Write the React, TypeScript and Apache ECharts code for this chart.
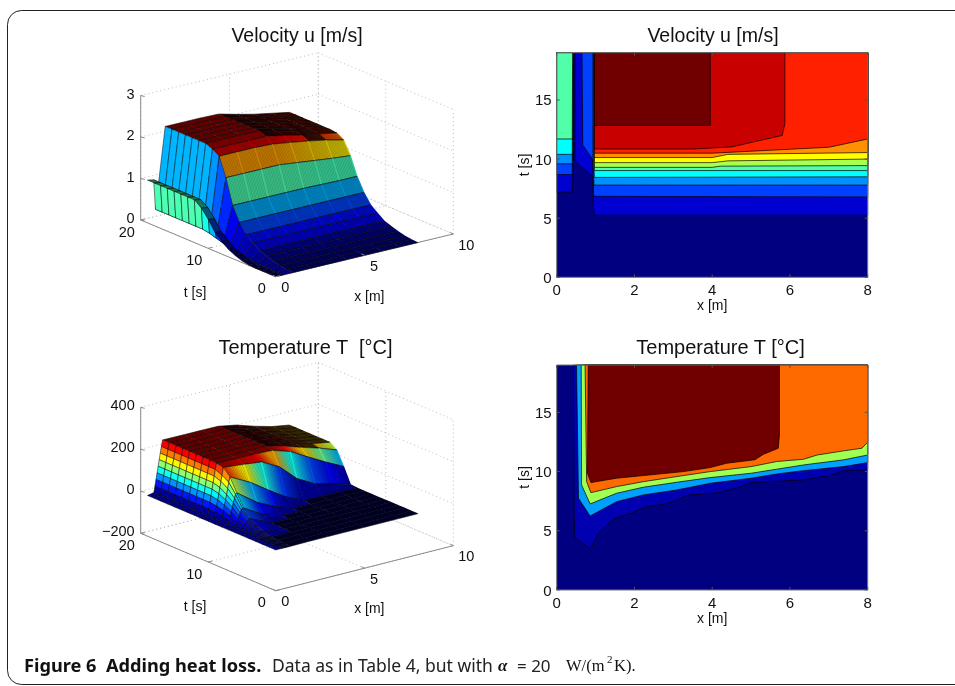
import React, { useEffect, useRef } from "react";
import * as echarts from "echarts";

// ---------- 3D surface data (rows: t = 0..19, columns: the x lists) ----------
const tGrid = [0,1,2,3,4,5,6,7,8,9,10,11,12,13,14,15,16,17,18,19];
const xGridU = [0,0.35,0.45,1,2,3,4,5,6,7,8];
const uRows = [
  [0,0,0,0,0,0,0,0,0,0,0],
  [0,0,0,0.01,0.01,0.01,0.01,0.01,0.01,0.01,0.01],
  [0,0,0,0.03,0.03,0.03,0.03,0.03,0.03,0.03,0.03],
  [0,0,0,0.07,0.07,0.07,0.07,0.07,0.07,0.07,0.07],
  [0.01,0.01,0.01,0.12,0.12,0.12,0.12,0.12,0.12,0.12,0.12],
  [0.04,0.04,0.03,0.18,0.18,0.18,0.18,0.18,0.18,0.18,0.18],
  [0.1,0.1,0.05,0.3,0.3,0.3,0.3,0.3,0.3,0.3,0.3],
  [0.18,0.18,0.07,0.43,0.43,0.43,0.43,0.43,0.43,0.43,0.43],
  [0.3,0.3,0.1,0.66,0.66,0.66,0.66,0.66,0.66,0.66,0.66],
  [0.45,0.44,0.15,1.0,1.0,1.0,1.0,1.0,0.99,0.98,0.98],
  [0.7,0.68,0.2,1.6,1.6,1.6,1.6,1.55,1.5,1.45,1.41],
  [0.9,0.88,0.25,2.05,2.05,2.05,2.03,1.97,1.9,1.82,1.72],
  [1.03,1.0,0.28,2.15,2.15,2.15,2.15,2.07,1.97,1.9,1.82],
  [1.03,1.0,0.28,2.22,2.22,2.22,2.21,2.1,2.0,1.92,1.84],
  [1.03,1.0,0.28,2.22,2.22,2.22,2.21,2.1,2.0,1.92,1.84],
  [1.03,1.0,0.28,2.22,2.22,2.22,2.21,2.1,2.0,1.92,1.84],
  [1.03,1.0,0.28,2.22,2.22,2.22,2.21,2.1,2.0,1.92,1.84],
  [1.03,1.0,0.28,2.22,2.22,2.22,2.21,2.1,2.0,1.92,1.84],
  [1.03,1.0,0.28,2.22,2.22,2.22,2.21,2.1,2.0,1.92,1.84],
  [1.03,1.0,0.28,2.22,2.22,2.22,2.21,2.1,2.0,1.92,1.84],
];
const xGridT = [0,0.36,0.42,0.48,0.54,0.6,0.66,0.72,0.78,0.85,2,3,4,5,6,7,8];
const tempRows = [
  [-6,-6,-6,-6,-6,-6,-6,-6,-6,-6,-5,-5,-5,-5,-5,-5,-5],
  [-6,-6,-6,-6,-6,-6,-6,-6,-6,-6,-5,-5,-5,-5,-5,-5,-5],
  [-6,-6,-6,-6,-5,-5,-5,-5,-5,-4,-5,-5,-5,-5,-5,-5,-5],
  [-6,-6,-5,-5,-4,-3,-3,-3,-3,-2,-5,-5,-5,-5,-5,-5,-5],
  [-6,-5,-1,3,6,8,9,10,10,10,-4,-5,-5,-5,-5,-5,-5],
  [-6,-4,2,8,13,17,20,23,24,25,-3,-5,-5,-5,-5,-5,-5],
  [-6,-2,5,12,20,27,34,40,43,43,-2,-4,-5,-5,-5,-5,-5],
  [-6,-1,10,22,35,48,60,72,80,80,22,-3,-5,-5,-5,-5,-5],
  [-6,0,18,36,55,75,95,115,132,138,68,28,-2,-5,-5,-5,-5],
  [-6,0,24,48,72,96,120,148,176,200,150,92,38,0,-2,-4,-5],
  [-6,0,28,56,84,112,140,168,196,232,222,212,168,90,44,22,-1],
  [-6,0,30,60,90,120,150,180,210,238,236,236,232,205,158,112,70],
  [-6,0,30,60,90,120,150,180,210,239,238,238,238,218,190,165,135],
  [-6,0,30,60,90,120,150,180,210,240,239,239,238,222,195,172,158],
  [-6,0,30,60,90,120,150,180,210,240,239,239,238,222,195,172,158],
  [-6,0,30,60,90,120,150,180,210,240,239,239,238,222,195,172,158],
  [-6,0,30,60,90,120,150,180,210,240,239,239,238,222,195,172,158],
  [-6,0,30,60,90,120,150,180,210,240,239,239,238,222,195,172,158],
  [-6,0,30,60,90,120,150,180,210,240,239,239,238,222,195,172,158],
  [-6,0,30,60,90,120,150,180,210,240,239,239,238,222,195,172,158],
];

// ---------- 3D axis ticks ----------
const xTicks3D = [0,5,10];
const tTicks3D = [0,10,20];
const uTicks3D = [0,1,2,3];
const tempTicks3D = [-200,0,200,400];
const tempTickLabels = ["\u2212200","0","200","400"];

// ---------- filled contour regions: [x, t] outlines ----------
const velocityColors = ["#000080","#0000d0","#0000d0","#0040ff","#0040ff","#0090ff","#0090ff","#00ffff","#00ffff","#50ffa8","#50ffa8","#a8ff50","#ffff00","#ff9000","#ff2000","#c80000","#700000"];
const velocityRegions: number[][][] = [
  [[0,0],[8,0],[8,19],[0,19]],
  [[0,7.2],[0.4,7.2],[0.42,9],[0.42,19],[0,19]],
  [[0.47,19],[0.47,9.9],[0.92,8.5],[0.94,6],[0.97,5.25],[8,5.25],[8,19]],
  [[0,8.7],[0.4,8.7],[0.41,19],[0,19]],
  [[0.65,19],[0.67,11.2],[0.92,10],[0.95,7],[0.97,6.85],[8,6.8],[8,19]],
  [[0,9.6],[0.4,9.6],[0.41,19],[0,19]],
  [[0.93,19],[0.93,10.1],[0.96,7.8],[8,7.8],[8,19]],
  [[0,10.4],[0.4,10.4],[0.41,19],[0,19]],
  [[0.95,19],[0.95,10],[0.97,8.45],[8,8.5],[8,19]],
  [[0,11.7],[0.4,11.7],[0.41,19],[0,19]],
  [[0.96,19],[0.97,9.03],[8,9.03],[8,19]],
  [[0.97,19],[0.97,9.3],[4,9.3],[4.2,9.4],[8,9.45],[8,19]],
  [[0.97,19],[0.97,9.7],[4,9.7],[4.4,9.85],[8,10],[8,19]],
  [[0.97,19],[0.97,10.13],[4,10.13],[4.4,10.4],[8,10.55],[8,19]],
  [[0.97,19],[0.97,10.5],[4,10.5],[7,11],[8,11.7],[8,19]],
  [[0.97,19],[0.97,10.85],[3.5,10.85],[4.5,11.03],[5.8,12],[5.87,13],[5.87,19]],
  [[0.97,12.85],[3.95,12.85],[3.95,19],[0.97,19]],
];
const temperatureColors = ["#000080","#0000b0","#00a0ff","#a0ff50","#ff6a00","#700000"];
const temperatureRegions: number[][][] = [
  [[0,0],[8,0],[8,19],[0,19]],
  [[0.43,19],[0.45,6.05],[0.47,4.4],[0.86,3.5],[1.1,4.9],[1.5,6.05],[1.93,6.5],[2.27,7],[2.83,7.3],[3.1,7.6],[3.35,8],[4.1,8.2],[4.63,8.6],[5,9.07],[6.35,9.3],[7,9.66],[7.4,10.08],[8,10.14],[8,19]],
  [[0.51,19],[0.56,7.75],[0.86,6.25],[1.54,7.46],[2.23,8.03],[3.09,8.45],[3.95,9.01],[5,9.44],[5.66,9.8],[6.35,10.08],[7.38,10.42],[8,10.76],[8,19]],
  [[0.63,19],[0.64,8.87],[0.86,7.27],[1.54,8.17],[2.23,8.68],[3.09,9.1],[3.95,9.49],[5,9.86],[5.66,10.2],[6.35,10.56],[7.38,10.99],[8,11.4],[8,19]],
  [[0.73,19],[0.77,9.15],[0.88,8.22],[1.54,8.73],[2.23,9.15],[3.09,9.58],[3.95,10],[5,10.42],[5.66,10.85],[6.35,11.04],[6.7,11.4],[7.38,11.75],[7.85,11.97],[8,12.48],[8,19]],
  [[0.81,19],[0.79,9.86],[0.88,9.07],[1.54,9.44],[2.23,9.66],[3.26,10],[3.95,10.34],[4.37,10.7],[5.1,11],[5.32,11.46],[5.7,11.97],[5.73,13.1],[5.73,19]],
];
const xTicks2D = [0,2,4,6,8];
const tTicks2D = [0,5,10,15];

const SANS = "Liberation Sans";

function jet(v: number) {
  const c = (a: number) => Math.max(0, Math.min(1, 1.5 - Math.abs(4 * v - a)));
  return [c(3), c(2), c(1)];
}
function rgb(v: number, k: number) {
  const [r, g, b] = jet(Math.max(0, Math.min(1, v)));
  return `rgb(${Math.round(r * k * 255)},${Math.round(g * k * 255)},${Math.round(b * k * 255)})`;
}

type Panel = {
  xs: number[]; Z: number[][]; origin: number[]; xv: number[]; tv: number[]; zv: number[];
  zBase: number; cMin: number; cMax: number; meshStart: number; gain: number[]; colShade: number[];
  slopeShade: number; flatNear: number; flatFar: number; flatLow: number;
  zTicks: number[]; zLabels: string[]; names: { text: string; x: number; y: number }[];
};
const panelU: Panel = {
  xs: xGridU, Z: uRows, origin: [275.7, 276.7], xv: [17.76, -4.27], tv: [-6.75, -2.835], zv: [0, -41.5],
  zBase: 0, cMin: 0, cMax: 2.22, meshStart: 3, gain: [1, 1, 2.4], colShade: [0.45, 1, 1],
  slopeShade: 0.78, flatNear: 0.72, flatFar: 0.2, flatLow: 0.6,
  zTicks: uTicks3D, zLabels: uTicks3D.map(String),
  names: [{ text: "t [s]", x: 195, y: 291.7 }, { text: "x [m]", x: 369.3, y: 296 }],
};
const panelT: Panel = {
  xs: xGridT, Z: tempRows, origin: [275.7, 590.7], xv: [17.76, -4.5], tv: [-6.75, -2.87], zv: [0, -0.21],
  zBase: -200, cMin: -6, cMax: 240, meshStart: 9, gain: [], colShade: [],
  slopeShade: 0.9, flatNear: 0.72, flatFar: 0.2, flatLow: 0.3,
  zTicks: tempTicks3D, zLabels: tempTickLabels,
  names: [{ text: "t [s]", x: 195, y: 605.7 }, { text: "x [m]", x: 369.3, y: 608.3 }],
};
const HATCH_STEPS = 12;

function project(p: Panel, x: number, t: number, z: number) {
  return [
    p.origin[0] + x * p.xv[0] + t * p.tv[0] + (z - p.zBase) * p.zv[0],
    p.origin[1] + x * p.xv[1] + t * p.tv[1] + (z - p.zBase) * p.zv[1],
  ];
}

function surfaceSeries(p: Panel) {
  const cells: number[][] = [];
  for (let j = tGrid.length - 2; j >= 0; j--)
    for (let i = p.xs.length - 2; i >= 0; i--) cells.push([i, j]);
  const range = p.cMax - p.cMin;
  const col = (v: number, g: number) => (v * g - p.cMin) / range;
  const pad = (from: number[], to: number[]) => {
    const dx = to[0] - from[0], dy = to[1] - from[1];
    const len = Math.hypot(dx, dy) || 1;
    return [to[0] + (dx / len) * 0.6, to[1] + (dy / len) * 0.6];
  };
  return {
    type: "custom", coordinateSystem: "cartesian2d", xAxisIndex: 0, yAxisIndex: 0, clip: false, silent: true, z: 3,
    data: cells,
    renderItem: (params: any, api: any) => {
      const [i, j] = cells[params.dataIndex];
      const P = (a: number, b: number) => api.coord(project(p, p.xs[a], tGrid[b], p.Z[b][a]));
      const c00 = P(i, j), c10 = P(i + 1, j), c11 = P(i + 1, j + 1), c01 = P(i, j + 1);
      const mesh = i >= p.meshStart;
      let shade = p.colShade[i] ?? 1;
      let hatch = false;
      if (mesh) {
        const slope = Math.abs(p.Z[j + 1][i] - p.Z[j][i]) / range > 0.04
          || Math.abs(p.Z[j + 1][i + 1] - p.Z[j][i + 1]) / range > 0.04;
        const low = col(p.Z[j][i], 1) < 0.06;
        hatch = slope && col(p.Z[j][i], 1) > 0.12;
        shade = slope ? p.slopeShade : low ? p.flatLow : p.xs[i] >= 4 ? p.flatFar : p.flatNear;
      }
      const g = p.gain[i] ?? 1;
      const c0 = rgb(col(p.Z[j][i], g), shade);
      let fill: any = c0;
      if (mesh) {
        // colour isolines run along the cell's t-edge, so neighbouring cells meet without a seam
        const ex = c01[0] - c00[0], ey = c01[1] - c00[1];
        const el = Math.hypot(ex, ey) || 1;
        const nx = -ey / el, ny = ex / el;
        const d = (c10[0] - c00[0]) * nx + (c10[1] - c00[1]) * ny;
        fill = new echarts.graphic.LinearGradient(c00[0], c00[1], c00[0] + nx * d, c00[1] + ny * d,
          [{ offset: 0, color: c0 }, { offset: 1, color: rgb(col(p.Z[j][i + 1], g), shade) }], true);
      }
      const children: any[] = [{
        type: "polygon", silent: true,
        shape: { points: mesh ? [c00, pad(c00, c10), pad(c01, c11), c01] : [c00, c10, c11, c01] },
        style: mesh ? { fill } : { fill, stroke: "rgba(0,0,0,0.8)", lineWidth: 0.6 },
      }];
      if (mesh) {
        if (hatch) {
          for (let s = 0; s < HATCH_STEPS; s++) {
            const f = s / HATCH_STEPS;
            children.push({
              type: "line", silent: true,
              shape: {
                x1: c00[0] + (c10[0] - c00[0]) * f, y1: c00[1] + (c10[1] - c00[1]) * f,
                x2: c01[0] + (c11[0] - c01[0]) * f, y2: c01[1] + (c11[1] - c01[1]) * f,
              },
              style: { stroke: "rgba(0,0,0,0.3)", lineWidth: 0.6 },
            });
          }
        }
        children.push({ type: "line", silent: true, shape: { x1: c00[0], y1: c00[1], x2: c10[0], y2: c10[1] }, style: { stroke: "rgba(0,0,0,0.8)", lineWidth: 0.7 } });
        children.push({ type: "line", silent: true, shape: { x1: c01[0], y1: c01[1], x2: c11[0], y2: c11[1] }, style: { stroke: "rgba(0,0,0,0.8)", lineWidth: 0.7 } });
      }
      return { type: "group", children };
    },
  };
}

function wireSeries(p: Panel) {
  const zLo = p.zTicks[0], zHi = p.zTicks[p.zTicks.length - 1];
  const X = 10, T = 20;
  const seg: { a: number[]; b: number[]; solid: boolean }[] = [];
  for (const z of p.zTicks) {
    seg.push({ a: [0, T, z], b: [X, T, z], solid: false });
    seg.push({ a: [X, T, z], b: [X, 0, z], solid: false });
  }
  for (const x of xTicks3D) {
    seg.push({ a: [x, T, zLo], b: [x, T, zHi], solid: false });
    seg.push({ a: [x, 0, zLo], b: [x, T, zLo], solid: false });
  }
  for (const t of tTicks3D) {
    seg.push({ a: [X, t, zLo], b: [X, t, zHi], solid: false });
    seg.push({ a: [0, t, zLo], b: [X, t, zLo], solid: false });
  }
  seg.push({ a: [0, T, zLo], b: [0, T, zHi], solid: true });
  seg.push({ a: [0, 0, zLo], b: [0, T, zLo], solid: true });
  seg.push({ a: [0, 0, zLo], b: [X, 0, zLo], solid: true });
  return {
    type: "custom", coordinateSystem: "cartesian2d", xAxisIndex: 0, yAxisIndex: 0, clip: false, silent: true, z: 2,
    data: seg.map((_, i) => [i, 0]),
    renderItem: (params: any, api: any) => {
      const s = seg[params.dataIndex];
      const a = api.coord(project(p, s.a[0], s.a[1], s.a[2]));
      const b = api.coord(project(p, s.b[0], s.b[1], s.b[2]));
      return {
        type: "line", silent: true, shape: { x1: a[0], y1: a[1], x2: b[0], y2: b[1] },
        style: s.solid ? { stroke: "#8a8a8a", lineWidth: 1 } : { stroke: "#bdbdbd", lineWidth: 1, lineDash: [1, 3] },
      };
    },
  };
}

function labelSeries(p: Panel) {
  const zLo = p.zTicks[0];
  const items: { text: string; at: number[]; align: string }[] = [];
  p.zTicks.forEach((z, i) => {
    const a = project(p, 0, 20, z);
    items.push({ text: p.zLabels[i], at: [a[0] - 6, a[1] - 2], align: "right" });
  });
  tTicks3D.forEach((t) => {
    const a = project(p, 0, t, zLo);
    items.push({ text: String(t), at: [a[0] - 14, a[1] + 11.5], align: "center" });
  });
  xTicks3D.forEach((x) => {
    const a = project(p, x, 0, zLo);
    items.push({ text: String(x), at: [a[0] + (x === 10 ? 13 : 9.5), a[1] + 10.5], align: "center" });
  });
  const ticks: number[][][] = [];
  p.zTicks.forEach((z) => {
    const a = project(p, 0, 20, z);
    ticks.push([a, [a[0] + 4, a[1] + 1]]);
  });
  tTicks3D.forEach((t) => {
    const a = project(p, 0, t, zLo);
    ticks.push([a, [a[0] + 4, a[1] - 1]]);
  });
  xTicks3D.forEach((x) => {
    const a = project(p, x, 0, zLo);
    ticks.push([a, [a[0] - 3, a[1] - 1.5]]);
  });
  const total = items.length + p.names.length + ticks.length;
  return {
    type: "custom", coordinateSystem: "cartesian2d", xAxisIndex: 0, yAxisIndex: 0, clip: false, silent: true, z: 4,
    data: Array.from({ length: total }, (_, i) => [i, 0]),
    renderItem: (params: any, api: any) => {
      const k = params.dataIndex;
      if (k < items.length) {
        const it = items[k];
        const c = api.coord(it.at);
        return { type: "text", silent: true, x: c[0], y: c[1], style: { text: it.text, fill: "#111", font: `14.5px ${SANS}`, align: it.align, verticalAlign: "middle" } };
      }
      if (k < items.length + p.names.length) {
        const n = p.names[k - items.length];
        const c = api.coord([n.x, n.y]);
        return { type: "text", silent: true, x: c[0], y: c[1], style: { text: n.text, fill: "#111", font: `14px ${SANS}`, align: "center", verticalAlign: "middle" } };
      }
      const t = ticks[k - items.length - p.names.length];
      const a = api.coord(t[0]), b = api.coord(t[1]);
      return { type: "line", silent: true, shape: { x1: a[0], y1: a[1], x2: b[0], y2: b[1] }, style: { stroke: "#8a8a8a", lineWidth: 1 } };
    },
  };
}

function contourSeries(regions: number[][][], colors: string[], axis: number) {
  return {
    type: "custom", coordinateSystem: "cartesian2d", xAxisIndex: axis, yAxisIndex: axis, silent: true, z: 3,
    data: regions.map((_, i) => [i, 0]),
    renderItem: (params: any, api: any) => {
      const k = params.dataIndex;
      return {
        type: "polygon", silent: true,
        shape: { points: regions[k].map((q) => api.coord(q)) },
        style: { fill: colors[k], stroke: k === 0 ? "none" : "#000", lineWidth: 0.7 },
      };
    },
  };
}

function frameSeries(axis: number) {
  const tickList: { x: number; t: number; dx: number; dy: number }[] = [];
  for (const x of xTicks2D) {
    tickList.push({ x, t: 0, dx: 0, dy: -3 });
    tickList.push({ x, t: 19, dx: 0, dy: 3 });
  }
  for (const t of tTicks2D) {
    tickList.push({ x: 0, t, dx: 3, dy: 0 });
    tickList.push({ x: 8, t, dx: -3, dy: 0 });
  }
  return {
    type: "custom", coordinateSystem: "cartesian2d", xAxisIndex: axis, yAxisIndex: axis, clip: false, silent: true, z: 5,
    data: [[0, 0], ...tickList.map((_, i) => [i + 1, 0])],
    renderItem: (params: any, api: any) => {
      const k = params.dataIndex;
      if (k === 0) {
        const a = api.coord([0, 19]), b = api.coord([8, 0]);
        return { type: "rect", silent: true, shape: { x: a[0], y: a[1], width: b[0] - a[0], height: b[1] - a[1] }, style: { fill: "none", stroke: "#777", lineWidth: 1 } };
      }
      const q = tickList[k - 1];
      const c = api.coord([q.x, q.t]);
      return { type: "line", silent: true, shape: { x1: c[0], y1: c[1], x2: c[0] + q.dx, y2: c[1] + q.dy }, style: { stroke: "#555", lineWidth: 1 } };
    },
  };
}

function axisX2D(grid: number) {
  return {
    gridIndex: grid, type: "value", min: 0, max: 8, interval: 2, name: "x [m]", nameLocation: "middle", nameGap: 17,
    nameTextStyle: { fontSize: 14, color: "#111", fontFamily: SANS },
    axisLine: { show: false }, axisTick: { show: false }, splitLine: { show: false },
    axisLabel: { fontSize: 15, color: "#111", fontFamily: SANS, margin: 5 },
  };
}
function axisT2D(grid: number) {
  return {
    gridIndex: grid, type: "value", min: 0, max: 19, name: "t [s]", nameLocation: "middle", nameGap: 20,
    nameTextStyle: { fontSize: 14, color: "#111", fontFamily: SANS },
    axisLine: { show: false }, axisTick: { show: false }, splitLine: { show: false },
    axisLabel: { fontSize: 15, color: "#111", fontFamily: SANS, margin: 5, customValues: tTicks2D },
  };
}

const titleVel = { fontSize: 19.5, fontWeight: "normal", color: "#111", fontFamily: SANS };
const titleTemp = { fontSize: 20, fontWeight: "normal", color: "#111", fontFamily: SANS };
const captionFont = "Noto Sans";

export default function App() {
  const ref = useRef<HTMLDivElement>(null);
  useEffect(() => {
    const chart = echarts.init(ref.current!, undefined, { renderer: "svg" });
    chart.setOption({
      animation: false,
      backgroundColor: "#fff",
      title: [
        { text: "Velocity u [m/s]", left: 292, top: 20, textAlign: "center", textStyle: titleVel },
        { text: "Velocity u [m/s]", left: 708, top: 20, textAlign: "center", textStyle: titleVel },
        { text: "Temperature T  [\u00b0C]", left: 300.5, top: 332, textAlign: "center", textStyle: titleTemp },
        { text: "Temperature T [\u00b0C]", left: 715.5, top: 332, textAlign: "center", textStyle: titleTemp },
      ],
      grid: [
        { left: 0, top: 0, width: 955, height: 686, show: false },
        { left: 556.7, top: 52.7, width: 311, height: 224.6 },
        { left: 556.7, top: 365, width: 311, height: 225 },
      ],
      xAxis: [
        { gridIndex: 0, type: "value", min: 0, max: 955, show: false },
        axisX2D(1),
        axisX2D(2),
      ],
      yAxis: [
        { gridIndex: 0, type: "value", min: 0, max: 686, inverse: true, show: false },
        axisT2D(1),
        axisT2D(2),
      ],
      series: [
        wireSeries(panelU), surfaceSeries(panelU), labelSeries(panelU),
        wireSeries(panelT), surfaceSeries(panelT), labelSeries(panelT),
        contourSeries(velocityRegions, velocityColors, 1), frameSeries(1),
        contourSeries(temperatureRegions, temperatureColors, 2), frameSeries(2),
      ],
      graphic: [
        { type: "rect", silent: true, z: 0, shape: { x: 7.5, y: 10.5, width: 1000, height: 674, r: 14 }, style: { fill: "none", stroke: "#222", lineWidth: 1 } },
        { type: "text", silent: true, x: 24, y: 665, style: { text: "Figure 6  Adding heat loss.", font: `bold 18.2px ${captionFont}`, fill: "#111", verticalAlign: "middle" } },
        { type: "text", silent: true, x: 272, y: 665, style: { text: "Data as in Table 4, but with", font: `17.5px ${captionFont}`, fill: "#222", verticalAlign: "middle" } },
        { type: "text", silent: true, x: 498, y: 665, style: { text: "\u03b1", font: `italic bold 17px Liberation Serif`, fill: "#111", verticalAlign: "middle" } },
        { type: "text", silent: true, x: 517, y: 665, style: { text: "= 20", font: `17px ${captionFont}`, fill: "#222", verticalAlign: "middle" } },
        { type: "text", silent: true, x: 566, y: 665, style: { text: "W/(m", font: `16.5px Liberation Serif`, fill: "#111", verticalAlign: "middle" } },
        { type: "text", silent: true, x: 607, y: 659, style: { text: "2", font: `11px Liberation Serif`, fill: "#111", verticalAlign: "middle" } },
        { type: "text", silent: true, x: 614, y: 665, style: { text: "K).", font: `16.5px Liberation Serif`, fill: "#111", verticalAlign: "middle" } },
      ],
    });
    return () => chart.dispose();
  }, []);
  return <div ref={ref} style={{ position: "absolute", left: 0, top: 0, width: 955, height: 686, filter: "blur(0.4px)" }} />;
}
